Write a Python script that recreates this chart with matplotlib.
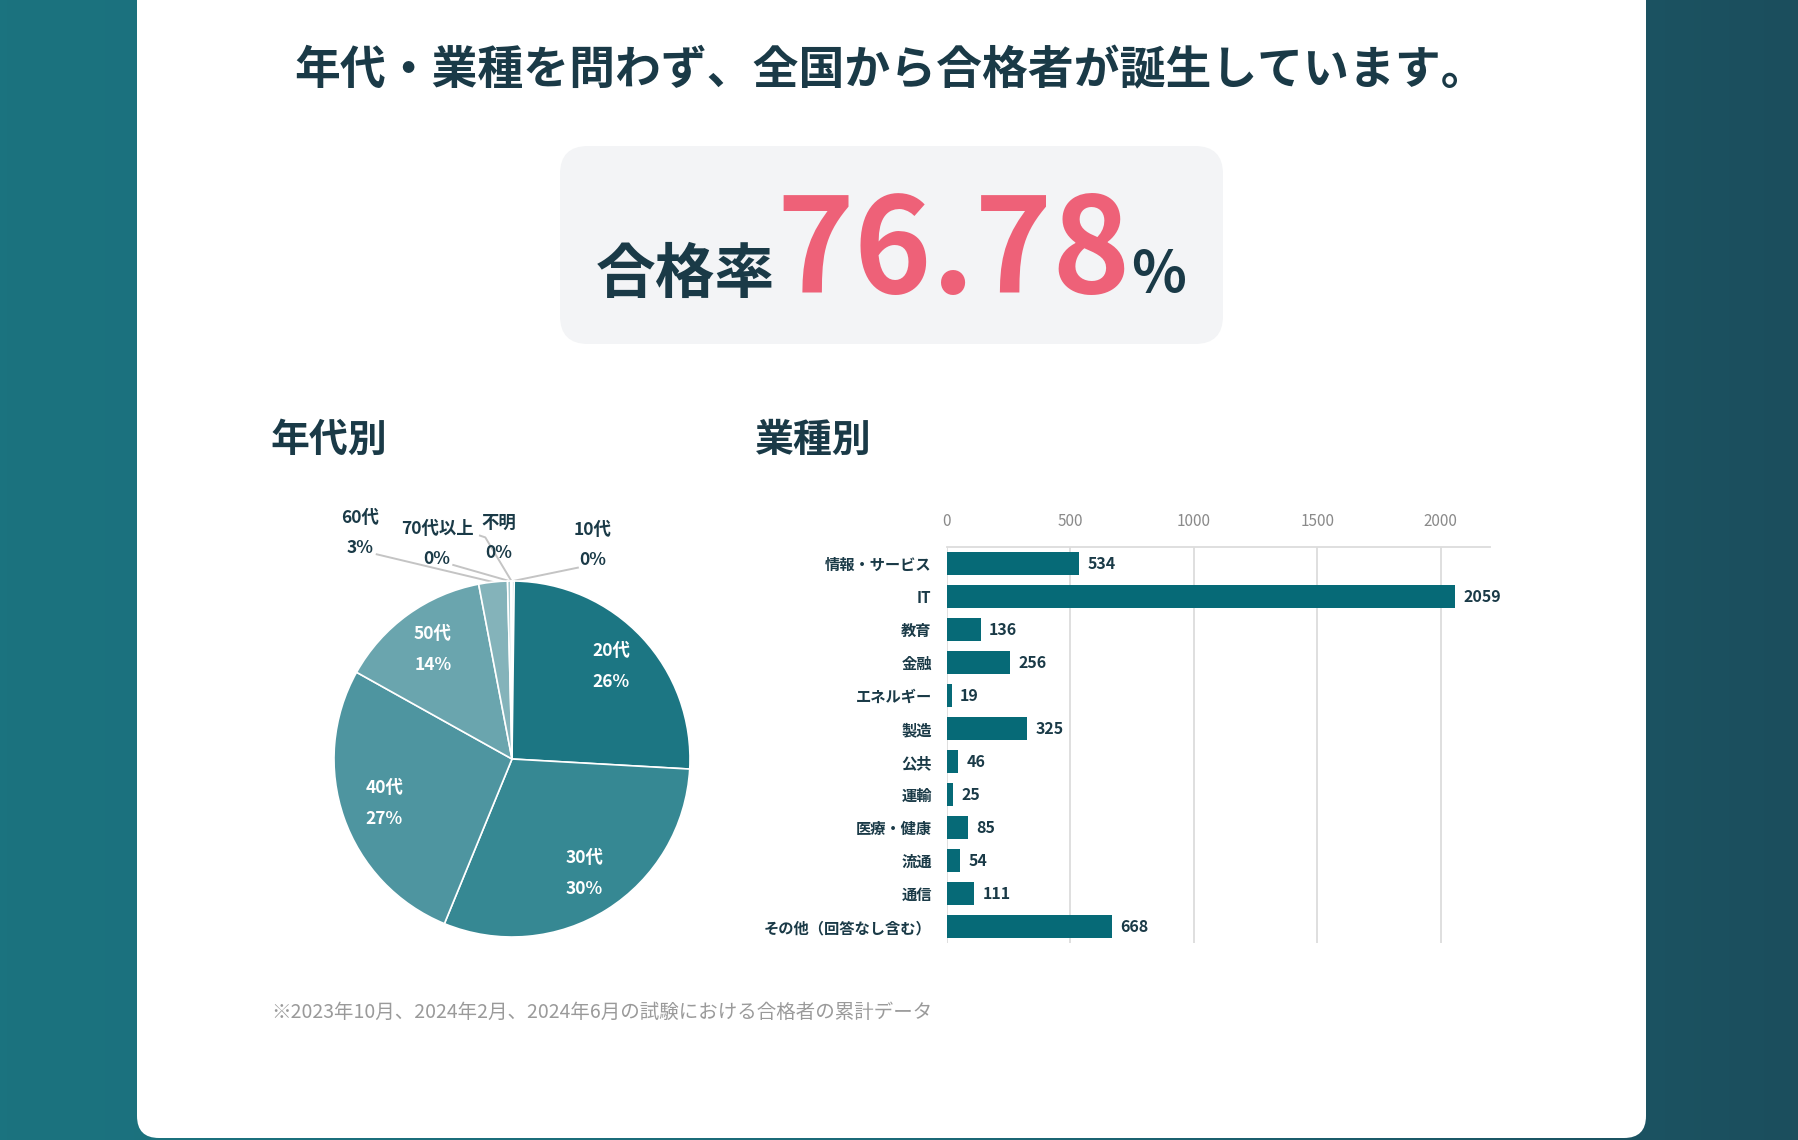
import numpy as np
import matplotlib
matplotlib.use("Agg")
import matplotlib.pyplot as plt
from matplotlib.patches import FancyBboxPatch
from matplotlib.colors import LinearSegmentedColormap

plt.rcParams['font.family'] = ['Noto Sans CJK JP', 'DejaVu Sans']

W, H = 1799, 1140
DARK = "#1a3a47"
PINK = "#ee6178"

title = "年代・業種を問わず、全国から合格者が誕生しています。"
rate_label = "合格率"
pass_rate = 76.78
note = "※2023年10月、2024年2月、2024年6月の試験における合格者の累計データ"

# age breakdown (percent share)
age_labels = ["10代", "20代", "30代", "40代", "50代", "60代", "70代以上", "不明"]
age_share = [0.2, 25.7, 30.3, 26.9, 13.9, 2.6, 0.3, 0.1]
age_colors = ["#17707d", "#1c7683", "#368893", "#4e95a0", "#6aa5ae",
              "#84b3ba", "#a6c9ce", "#c3dcdf"]

# industry breakdown (people)
industry_labels = ["情報・サービス", "IT", "教育", "金融", "エネルギー", "製造",
                   "公共", "運輸", "医療・健康", "流通", "通信", "その他（回答なし含む）"]
industry_counts = [534, 2059, 136, 256, 19, 325, 46, 25, 85, 54, 111, 668]
industry_ticks = [0, 500, 1000, 1500, 2000]


def px_axes(fig, left, top, width, height):
    """add axes from pixel box (top-left origin)"""
    return fig.add_axes([left / W, 1 - (top + height) / H, width / W, height / H])


fig = plt.figure(figsize=(W / 100, H / 100), dpi=100)

# background + card, drawn in pixel coordinates
bg = fig.add_axes([0, 0, 1, 1])
bg.set_xlim(0, W)
bg.set_ylim(H, 0)
bg.axis("off")
cmap = LinearSegmentedColormap.from_list("bg", ["#1b737f", "#1b6a78", "#1c4e5d"])
bg.imshow(np.linspace(0, 1, 256).reshape(1, -1), extent=[0, W, H, 0],
          aspect="auto", cmap=cmap, zorder=0)
bg.add_patch(FancyBboxPatch((137, -60), 1509, 1198,
                            boxstyle="round,pad=0,rounding_size=22",
                            fc="white", ec="none", zorder=1))
bg.add_patch(FancyBboxPatch((560, 146), 663, 198,
                            boxstyle="round,pad=0,rounding_size=28",
                            fc="#f3f4f6", ec="none", zorder=2))

bg.text(891, 71, title, ha="center", va="center", fontsize=33,
        fontweight="bold", color=DARK, zorder=3)

# pass rate row: measure pieces and center the group
base_y = 293
t1 = bg.text(0, base_y, rate_label, ha="left", va="baseline", fontsize=43,
             fontweight="bold", color=DARK, zorder=3)
t2 = bg.text(0, base_y, f"{pass_rate:.2f}", ha="left", va="baseline", fontsize=95,
             fontweight="bold", color=PINK, zorder=3)
t3 = bg.text(0, base_y, "%", ha="left", va="baseline", fontsize=41,
             fontweight="bold", color=DARK, zorder=3)
r = fig.canvas.get_renderer()
w1 = t1.get_window_extent(r).width
w2 = t2.get_window_extent(r).width
w3 = t3.get_window_extent(r).width
gap = 1
x0 = 891 - (w1 + w2 + w3 + 2 * gap) / 2
t1.set_x(x0)
t2.set_x(x0 + w1 + gap)
t3.set_x(x0 + w1 + w2 + 2 * gap)

bg.text(271, 440, "年代別", ha="left", va="center", fontsize=28,
        fontweight="bold", color=DARK, zorder=3)
bg.text(755, 440, "業種別", ha="left", va="center", fontsize=28,
        fontweight="bold", color=DARK, zorder=3)
bg.text(271, 1012, note, ha="left", va="center", fontsize=14,
        color="#9a9a9a", zorder=3)

# pie
pie_r = 178
ax_pie = px_axes(fig, 512 - pie_r, 759 - pie_r, 2 * pie_r, 2 * pie_r)
wedges, _ = ax_pie.pie(age_share, colors=age_colors, startangle=90,
                       counterclock=False, radius=1,
                       wedgeprops=dict(edgecolor="white", linewidth=1.2))
ax_pie.set_xlim(-1, 1)
ax_pie.set_ylim(-1, 1)

for i, w in enumerate(wedges):
    txt = f"{age_labels[i]}\n{round(age_share[i])}%"
    mid = np.deg2rad((w.theta1 + w.theta2) / 2)
    if age_share[i] >= 10:
        ax_pie.text(0.76 * np.cos(mid), 0.76 * np.sin(mid), txt, ha="center",
                    va="center", color="white", fontsize=12.5, fontweight="bold",
                    linespacing=1.9)

# small slices: labels outside with leader lines
outside = {
    0: dict(text=(0.455, 1.202), line=[(0.37, 1.075)]),
    5: dict(text=(-0.854, 1.270), line=[(-0.76, 1.15)]),
    6: dict(text=(-0.421, 1.208), line=[(-0.33, 1.09)]),
    7: dict(text=(-0.073, 1.242), line=[(-0.18, 1.255), (-0.15, 1.245)]),
}
for i, spec in outside.items():
    w = wedges[i]
    mid = np.deg2rad((w.theta1 + w.theta2) / 2)
    pts = spec["line"] + [(np.cos(mid), np.sin(mid))]
    xs, ys = zip(*pts)
    ax_pie.plot(xs, ys, color="#c4c4c4", lw=1.4, clip_on=False, zorder=0)
    tx, ty = spec["text"]
    ax_pie.text(tx, ty, f"{age_labels[i]}\n{round(age_share[i])}%", ha="center",
                va="center", color=DARK, fontsize=12.5, fontweight="bold",
                linespacing=1.9, clip_on=False)

# industry bars
ax_bar = px_axes(fig, 947, 547, 543, 396)
y = np.arange(len(industry_labels))
bars = ax_bar.barh(y, industry_counts, height=0.7, color="#066a77", zorder=2)
ax_bar.bar_label(bars, padding=6, fontsize=11.5, fontweight="bold", color=DARK)
ax_bar.set_xlim(0, 2200)
ax_bar.set_ylim(len(industry_labels) - 0.5, -0.5)
ax_bar.set_yticks(y)
ax_bar.set_yticklabels(industry_labels, fontsize=11, fontweight="bold", color=DARK)
ax_bar.set_xticks(industry_ticks)
ax_bar.xaxis.tick_top()
ax_bar.tick_params(axis="x", length=0, pad=12, labelsize=11, labelcolor="#8a8a8a")
ax_bar.tick_params(axis="y", length=0, pad=11)
ax_bar.grid(axis="x", color="#dcdcdc", lw=1.3, zorder=0)
ax_bar.set_axisbelow(True)
for side in ["left", "right", "bottom"]:
    ax_bar.spines[side].set_visible(False)
ax_bar.spines["top"].set_color("#dcdcdc")
ax_bar.spines["top"].set_linewidth(1.3)
ax_bar.patch.set_alpha(0)

fig.savefig("out.png", dpi=100)
